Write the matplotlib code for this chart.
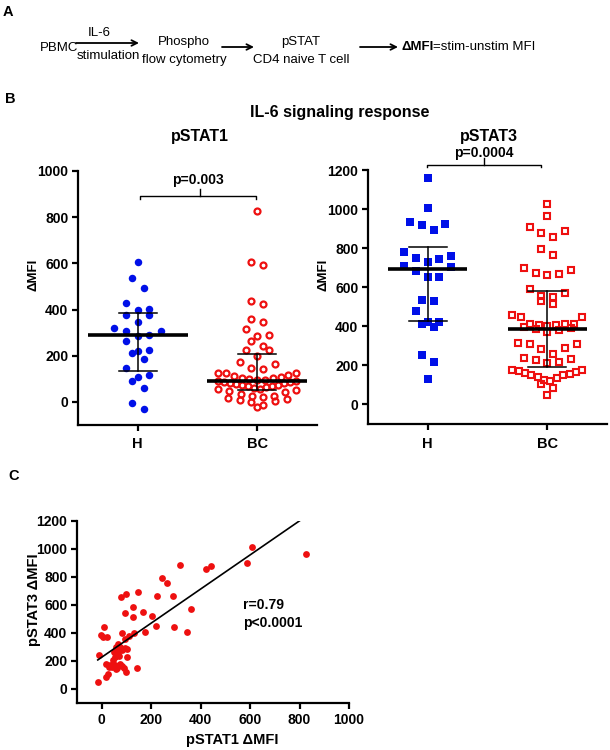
import numpy as np
import matplotlib
matplotlib.use("Agg")
import matplotlib.pyplot as plt

plt.rcParams['font.family'] = ['Liberation Sans', 'DejaVu Sans']
plt.rcParams['font.weight'] = 'bold'

# ---- panel B: delta MFI per subject ----
groups = ['H', 'BC']
h_pstat1 = [606, 536, 494, 429, 403, 396, 378, 378, 346, 320, 309, 306, 291,
            284, 262, 223, 222, 212, 186, 146, 117, 106, 91, 59, -3, -32]
bc_pstat1 = [827, 606, 591, 439, 422, 359, 345, 316, 291, 284, 262, 241, 226,
             226, 200, 171, 165, 146, 142, 127, 127, 125, 118, 112, 110, 105,
             103, 100, 97, 93, 91, 90, 88, 85, 83, 80, 78, 75, 72, 70, 68, 65,
             62, 58, 55, 52, 48, 42, 36, 27, 26, 23, 16, 12, 9, 5, -1, -13, -23]
h_pstat3 = [1157, 1007, 935, 926, 921, 892, 778, 760, 750, 742, 727, 708, 704,
            684, 653, 653, 537, 528, 478, 422, 422, 414, 396, 255, 217, 128]
bc_pstat3 = [1024, 966, 909, 889, 880, 858, 798, 764, 696, 687, 673, 670, 662,
             593, 573, 555, 550, 530, 513, 456, 448, 448, 414, 414, 410, 408,
             405, 402, 395, 390, 385, 379, 371, 314, 311, 308, 291, 285, 260,
             239, 231, 226, 217, 212, 174, 174, 169, 166, 160, 157, 150, 150,
             140, 137, 125, 120, 106, 84, 46]

# median and interquartile range drawn on the dot plots
pstat1_median = [288, 91]
pstat1_q1 = [136, 52]
pstat1_q3 = [385, 209]
pstat3_median = [692, 388]
pstat3_q1 = [426, 191]
pstat3_q3 = [807, 579]

# ---- panel C: BC patients, pSTAT1 vs pSTAT3 ----
c_pstat1 = [607, 825, 587, 318, 422, 440, 243, 262, 78, 98, 145, 223, 288,
            127, 168, 95, 205, 127, 362, 11, 220, 292, 346, 174, -3, 21, 7,
            84, 111, 131, 94, 57, 75, 94, 102, 66, 51, 67, 84, -10, 52, 70,
            102, 45, 17, 35, 52, 75, 40, 62, 91, 142, 98, 27, 17, -16, 58, 82, 30]
c_pstat3 = [1017, 962, 902, 883, 857, 876, 790, 760, 657, 680, 690, 667, 665,
            584, 552, 545, 524, 512, 569, 440, 447, 440, 410, 407, 386, 374, 368,
            402, 380, 397, 358, 298, 302, 296, 286, 318, 266, 262, 276, 243, 230,
            238, 228, 205, 176, 168, 170, 178, 158, 152, 148, 148, 124, 107, 83,
            48, 140, 165, 160]

BLUE = '#0010E8'
RED = '#EE1010'

W, H = 610, 750
fig = plt.figure(figsize=(W / 100, H / 100), dpi=100)


def rect(x0, y0, x1, y1):
    return [x0 / W, 1 - y1 / H, (x1 - x0) / W, (y1 - y0) / H]


ov = fig.add_axes([0, 0, 1, 1])
ov.set_xlim(0, W)
ov.set_ylim(H, 0)
ov.axis('off')


def row_x(ax, center, vals, row_px, step, wmax):
    # prism-like scatter: greedy rows from the top, spread around the centre
    vals = np.asarray(vals, float)
    pts = ax.transData.transform(np.column_stack([np.full(len(vals), center), vals]))
    cx = pts[0, 0]
    ys = pts[:, 1]
    order = np.argsort(-ys, kind='stable')
    rows, cur = [], [order[0]]
    for i in order[1:]:
        if ys[cur[0]] - ys[i] < row_px:
            cur.append(i)
        else:
            rows.append(cur)
            cur = [i]
    rows.append(cur)
    offs = np.zeros(len(vals))
    for idx in rows:
        idx = np.array(idx)
        n = len(idx)
        s = step if n < 2 else min(step, wmax / (n - 1))
        slots = (np.arange(n) - (n - 1) / 2) * s
        slots = sorted(slots, key=lambda o: (abs(o), -o))
        for j, i in enumerate(idx[np.argsort(vals[idx], kind='stable')]):
            offs[i] = slots[j]
    back = ax.transData.inverted().transform(np.column_stack([cx + offs, ys]))
    return back[:, 0]


def style(ax):
    ax.set_facecolor('none')
    ax.spines[['top', 'right']].set_visible(False)
    ax.spines[['left', 'bottom']].set_linewidth(1.6)
    ax.tick_params(width=1.6, length=4, labelsize=10, pad=3)


def dotplot(ax, data, med, q1, q3, marker, styles, half):
    for k, vals in enumerate(data):
        st = styles[k]
        xs = row_x(ax, k + 1, vals, st['row'], st['step'], st['wmax'])
        ax.plot(xs, vals, ls='none', marker=marker, ms=st['ms'], mfc=st['mfc'],
                mec=st['mec'], mew=st['mew'], zorder=2)
        ax.plot([k + 1 - half, k + 1 + half], [med[k]] * 2, color='black',
                lw=2.6, solid_capstyle='butt', zorder=3)
        ax.plot([k + 1, k + 1], [q1[k], q3[k]], color='black', lw=1.1, zorder=3)
        for q in (q1[k], q3[k]):
            ax.plot([k + 0.84, k + 1.16], [q, q], color='black', lw=1.1, zorder=3)


def bracket(ax, x0, x1, xm, y, drop, rise, ytext, label):
    ax.plot([x0, x0, x1, x1], [y - drop, y, y, y - drop], color='black', lw=1.0, clip_on=False)
    ax.plot([xm, xm], [y, y + rise], color='black', lw=1.0, clip_on=False)
    ax.text((x0 + x1) / 2, ytext, label, ha='center', va='center', fontsize=10)


# ---------------- panel A ----------------
arrow = dict(arrowstyle='->', lw=1.3, color='black', shrinkA=0, shrinkB=0)
ov.text(8, 12, 'A', fontsize=10.5, ha='center', va='center')
ov.text(40, 48, 'PBMC', fontsize=9.5, weight='normal', ha='left', va='center')
ov.annotate('', xy=(139, 43), xytext=(76, 43), arrowprops=arrow)
ov.text(99, 33, 'IL-6', fontsize=9.5, weight='normal', ha='center', va='center')
ov.text(108, 56, 'stimulation', fontsize=9.5, weight='normal', ha='center', va='center')
ov.text(184, 42, 'Phospho', fontsize=9.5, weight='normal', ha='center', va='center')
ov.text(184, 60, 'flow cytometry', fontsize=9.5, weight='normal', ha='center', va='center')
ov.annotate('', xy=(254, 47), xytext=(222, 47), arrowprops=arrow)
ov.text(301, 42, 'pSTAT', fontsize=9.5, weight='normal', ha='center', va='center')
ov.text(301, 60, 'CD4 naive T cell', fontsize=9.5, weight='normal', ha='center', va='center')
ov.annotate('', xy=(398, 47), xytext=(360, 47), arrowprops=arrow)
t1 = ov.text(401, 47, '\u0394MFI', fontsize=9.5, ha='left', va='center')
bb = t1.get_window_extent(renderer=fig.canvas.get_renderer())
x_end = ov.transData.inverted().transform((bb.x1, bb.y0))[0]
ov.text(x_end, 47, '=stim-unstim MFI', fontsize=9.5, weight='normal', ha='left', va='center')

# ---------------- panel B ----------------
ov.text(10, 99, 'B', fontsize=10.5, ha='center', va='center')
ov.text(340, 112, 'IL-6 signaling response', fontsize=11.5, ha='center', va='center')
ov.text(200, 137, 'pSTAT1', fontsize=11.5, ha='center', va='center')
ov.text(489, 137, 'pSTAT3', fontsize=11.5, ha='center', va='center')

ax1 = fig.add_axes(rect(78, 171, 317, 425))
style(ax1)
ax1.set_xlim(0.5, 2.5)
ax1.set_ylim(-100, 1000)
ax1.set_yticks(np.arange(0, 1001, 200))
ax1.set_xticks([1, 2])
ax1.set_xticklabels(groups, fontsize=10.5)
ax1.tick_params(axis='x', pad=5)
ax1.text(-0.185, 0.59, '\u0394MFI', transform=ax1.transAxes, rotation=90,
         ha='center', va='center', fontsize=9.5)
dotplot(ax1, [h_pstat1, bc_pstat1], pstat1_median, pstat1_q1, pstat1_q3, 'o',
        [dict(row=10, step=11.7, wmax=60, ms=5.4, mfc=BLUE, mec=BLUE, mew=0),
         dict(row=8, step=11.7, wmax=78, ms=4.3, mfc='none', mec=RED, mew=1.6)], 0.42)
bracket(ax1, 1.02, 1.99, 1.52, 893, 14, 30, 961, 'p=0.003')

ax2 = fig.add_axes(rect(368, 170, 607, 424))
style(ax2)
ax2.set_xlim(0.5, 2.5)
ax2.set_ylim(-100, 1200)
ax2.set_yticks(np.arange(0, 1201, 200))
ax2.set_xticks([1, 2])
ax2.set_xticklabels(groups, fontsize=10.5)
ax2.tick_params(axis='x', pad=5)
ax2.text(-0.188, 0.587, '\u0394MFI', transform=ax2.transAxes, rotation=90,
         ha='center', va='center', fontsize=9.5)
dotplot(ax2, [h_pstat3, bc_pstat3], pstat3_median, pstat3_q1, pstat3_q3, 's',
        [dict(row=11, step=11.7, wmax=60, ms=5.3, mfc=BLUE, mec=BLUE, mew=0),
         dict(row=11, step=11.7, wmax=70, ms=4.5, mfc='none', mec=RED, mew=1.5)], 0.33)
bracket(ax2, 0.99, 1.95, 1.47, 1226, 12, 35, 1287, 'p=0.0004')

# ---------------- panel C ----------------
ov.text(14, 476, 'C', fontsize=10.5, ha='center', va='center')
ax3 = fig.add_axes(rect(77, 521, 349, 703))
style(ax3)
ax3.set_xlim(-100, 1000)
ax3.set_ylim(-100, 1200)
ax3.set_xticks(np.arange(0, 1001, 200))
ax3.set_yticks(np.arange(0, 1201, 200))
ax3.plot(c_pstat1, c_pstat3, ls='none', marker='o', ms=4.9, mfc=RED, mec=RED, mew=0, zorder=2)
slope, icpt = np.polyfit(c_pstat1, c_pstat3, 1)
xl = np.array([min(c_pstat1), max(c_pstat1)])
ax3.plot(xl, slope * xl + icpt, color='black', lw=1.2, zorder=3)
ax3.text(573, 600, 'r=0.79', fontsize=10, ha='left', va='center')
ax3.text(573, 471, 'p<0.0001', fontsize=10, ha='left', va='center')
ax3.text(-0.158, 0.566, 'pSTAT3 \u0394MFI', transform=ax3.transAxes, rotation=90,
         ha='center', va='center', fontsize=10.5)
ax3.text(0.57, -0.203, 'pSTAT1 \u0394MFI', transform=ax3.transAxes,
         ha='center', va='center', fontsize=10.5)

fig.savefig('out.png', dpi=100)
